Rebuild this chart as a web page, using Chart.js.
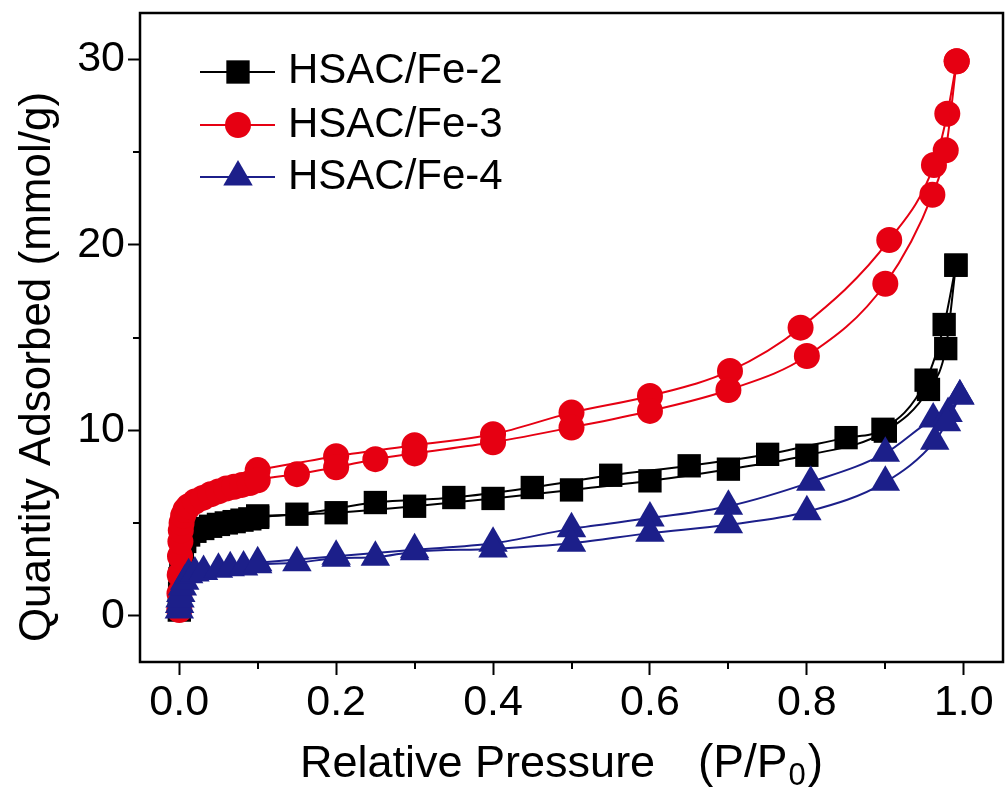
<!DOCTYPE html>
<html><head><meta charset="utf-8">
<script src="https://cdn.jsdelivr.net/npm/chart.js@4.4.1/dist/chart.umd.min.js"></script>
<style>html,body{margin:0;padding:0;background:#fff}canvas{display:block}</style>
</head><body>
<canvas id="c" width="1005" height="787"></canvas>
<script>
// ---- data ----
const seriesNames = ['HSAC/Fe-2', 'HSAC/Fe-3', 'HSAC/Fe-4'];

// HSAC/Fe-2 (black squares)
const fe2AdsP = [0.0001,0.0005,0.001,0.002,0.004,0.007,0.012,0.02,0.03,0.04,0.05,0.06,0.07,0.08,0.09,0.1,0.2,0.3,0.4,0.5,0.6,0.7,0.8,0.9,0.955,0.977,0.99];
const fe2AdsQ = [0.3,1.2,2.0,2.8,3.5,4.0,4.35,4.55,4.7,4.82,4.92,5.0,5.07,5.15,5.22,5.3,5.55,5.9,6.32,6.78,7.27,7.9,8.65,9.95,12.2,14.4,18.9];
const fe2DesP = [0.1,0.15,0.25,0.35,0.45,0.55,0.65,0.75,0.85,0.897,0.952,0.975,0.99];
const fe2DesQ = [5.38,5.47,6.1,6.37,6.91,7.57,8.08,8.7,9.6,10.05,12.7,15.7,18.9];

// HSAC/Fe-3 (red circles)
const fe3AdsP = [0.0001,0.0003,0.0006,0.001,0.0015,0.002,0.003,0.005,0.008,0.012,0.02,0.03,0.04,0.05,0.06,0.07,0.08,0.09,0.1,0.15,0.2,0.25,0.3,0.4,0.5,0.6,0.7,0.8,0.9,0.96,0.977,0.991];
const fe3AdsQ = [0.3,1.2,2.2,3.2,4.0,4.6,5.0,5.4,5.7,5.9,6.15,6.35,6.55,6.7,6.85,6.95,7.05,7.15,7.3,7.63,8.0,8.44,8.75,9.35,10.15,11.04,12.17,14.0,17.9,22.7,25.1,29.9];
const fe3DesP = [0.1,0.2,0.3,0.4,0.5,0.6,0.702,0.792,0.905,0.962,0.979,0.991];
const fe3DesQ = [7.85,8.6,9.19,9.78,10.95,11.85,13.2,15.53,20.26,24.3,27.07,29.9];

// HSAC/Fe-4 (blue triangles)
const fe4AdsP = [0.0001,0.0005,0.001,0.002,0.004,0.007,0.012,0.02,0.031,0.05,0.065,0.082,0.1,0.15,0.2,0.25,0.3,0.4,0.5,0.6,0.7,0.8,0.9,0.963,0.978,0.995];
const fe4AdsQ = [0.3,0.6,0.9,1.2,1.55,1.85,2.2,2.3,2.38,2.5,2.58,2.62,2.75,2.85,3.1,3.15,3.45,3.6,3.9,4.45,4.9,5.6,7.2,9.4,10.4,11.85];
const fe4DesP = [0.1,0.2,0.3,0.4,0.5,0.6,0.7,0.805,0.9,0.961,0.98,0.995];
const fe4DesQ = [2.85,3.2,3.55,3.9,4.68,5.26,5.9,7.2,8.76,10.6,10.9,11.85];

const xMajorTicks = [0.0,0.2,0.4,0.6,0.8,1.0];
const xMinorTicks = [0.1,0.3,0.5,0.7,0.9];
const yMajorTicks = [0,10,20,30];
const yMinorTicks = [5,15,25];

// ---- styling ----
const FONT = "Arial, 'Liberation Sans', sans-serif";
const styles = [
  {color:'#000000', pointStyle:'rect', radius:16.5, order:3},
  {color:'#e60012', pointStyle:'circle', radius:13, order:2},
  {color:'#1c1f8a', pointStyle:'triangle', radius:17, order:1}
];
const pts = (p, q) => p.map((x, i) => ({x: x, y: q[i]}));
const branches = [
  [pts(fe2AdsP, fe2AdsQ), pts(fe2DesP, fe2DesQ)],
  [pts(fe3AdsP, fe3AdsQ), pts(fe3DesP, fe3DesQ)],
  [pts(fe4AdsP, fe4AdsQ), pts(fe4DesP, fe4DesQ)]
];
const datasets = [];
branches.forEach((br, s) => {
  br.forEach((data, b) => {
    const st = styles[s];
    datasets.push({
      label: seriesNames[s] + (b ? ' (desorption)' : ' (adsorption)'),
      data: data,
      borderColor: st.color, backgroundColor: st.color,
      pointBackgroundColor: st.color, pointBorderColor: st.color,
      pointStyle: st.pointStyle, pointRadius: st.radius, pointBorderWidth: 0,
      pointHoverRadius: st.radius,
      borderWidth: 2, cubicInterpolationMode: 'monotone', fill: false,
      order: st.order, clip: false
    });
  });
});

const X_RANGE = [-0.05, 1.05];
const Y_RANGE = [-2.5, 32.5];

const noPad = s => { s.paddingLeft = 0; s.paddingRight = 0; s.paddingTop = 0; s.paddingBottom = 0; };

const decor = {
  id: 'decor',
  afterDraw(chart) {
    const ctx = chart.ctx, a = chart.chartArea;
    const xs = chart.scales.x, ys = chart.scales.y;
    ctx.save();
    ctx.strokeStyle = '#000'; ctx.lineWidth = 2.5;
    ctx.strokeRect(a.left, a.top, a.right - a.left, a.bottom - a.top);
    ctx.lineWidth = 2;
    ctx.beginPath();
    xMinorTicks.forEach(v => { const px = Math.round(xs.getPixelForValue(v)); ctx.moveTo(px, a.bottom); ctx.lineTo(px, a.bottom + 7); });
    yMinorTicks.forEach(v => { const py = Math.round(ys.getPixelForValue(v)); ctx.moveTo(a.left, py); ctx.lineTo(a.left - 7, py); });
    ctx.stroke();

    // axis titles
    ctx.fillStyle = '#000';
    ctx.textBaseline = 'alphabetic';
    ctx.textAlign = 'left';
    const big = '45px ' + FONT, big2 = '46px ' + FONT, sub = '31px ' + FONT;
    const by = 777;
    ctx.font = big;
    ctx.fillText('Relative Pressure', 300, by);
    ctx.font = big2;
    let x = 698;
    ctx.fillText('(P/P', x, by);
    x += ctx.measureText('(P/P').width + 1;
    ctx.font = sub; ctx.fillText('0', x, by + 8);
    x += ctx.measureText('0').width + 2;
    ctx.font = big2; ctx.fillText(')', x, by);

    ctx.save();
    ctx.translate(50, 367);
    ctx.rotate(-Math.PI / 2);
    ctx.textAlign = 'center';
    ctx.font = '44px ' + FONT;
    ctx.fillText('Quantity Adsorbed (mmol/g)', 0, 0);
    ctx.restore();

    // legend
    const rows = [[72, 83], [125, 137], [177, 189]];
    styles.forEach((st, i) => {
      const [my, ty] = rows[i];
      ctx.strokeStyle = st.color; ctx.fillStyle = st.color; ctx.lineWidth = 2;
      ctx.beginPath(); ctx.moveTo(200, my); ctx.lineTo(275, my); ctx.stroke();
      Chart.helpers.drawPoint(ctx, {pointStyle: st.pointStyle, radius: st.radius, rotation: 0, borderWidth: 0}, 238, my);
      ctx.fillStyle = '#000'; ctx.font = '42px ' + FONT; ctx.textAlign = 'left';
      ctx.fillText(seriesNames[i], 288, ty);
    });
    ctx.restore();
  }
};

new Chart(document.getElementById('c'), {
  type: 'line',
  data: {datasets: datasets},
  options: {
    responsive: false, animation: false, devicePixelRatio: 1,
    layout: {autoPadding: false, padding: {left: 0, right: 2, top: 13, bottom: 0}},
    plugins: {legend: {display: false}, tooltip: {enabled: false}},
    scales: {
      x: {
        type: 'linear', min: X_RANGE[0], max: X_RANGE[1],
        afterBuildTicks: s => { s.ticks = xMajorTicks.map(v => ({value: v})); },
        afterFit: s => { s.height = 125; noPad(s); },
        border: {display: false},
        grid: {drawOnChartArea: false, drawTicks: true, tickLength: 13, tickWidth: 2, tickColor: '#000'},
        ticks: {color: '#000', font: {family: FONT, size: 43}, padding: 2, maxRotation: 0, autoSkip: false,
                callback: v => Number(v).toFixed(1)}
      },
      y: {
        type: 'linear', min: Y_RANGE[0], max: Y_RANGE[1],
        afterBuildTicks: s => { s.ticks = yMajorTicks.map(v => ({value: v})); },
        afterFit: s => { s.width = 140; noPad(s); },
        border: {display: false},
        grid: {drawOnChartArea: false, drawTicks: true, tickLength: 12, tickWidth: 2, tickColor: '#000'},
        ticks: {color: '#000', font: {family: FONT, size: 43}, padding: 3, autoSkip: false,
                callback: v => String(v)}
      }
    }
  },
  plugins: [decor]
});
</script>
</body></html>
